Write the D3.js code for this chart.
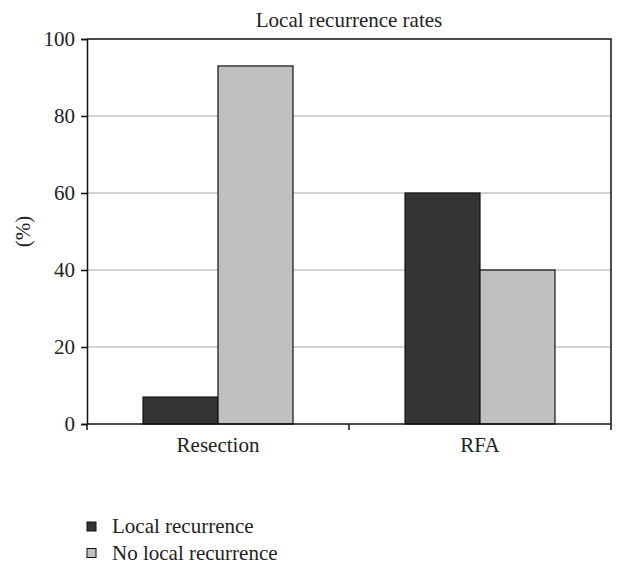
<!DOCTYPE html>
<html>
<head lang="en">
    <meta charset="UTF-8">
    <title>Local recurrence rates</title>
    <style>
        body { margin: 0; background: #fff; }
        text { font-family: "Liberation Serif", "DejaVu Serif", serif; fill: #222; }
    </style>
</head>
<body>
<div id="chart"></div>
<script src="https://cdn.jsdelivr.net/npm/d3@7"></script>
<script>
    // データ
    var categories = ["Resection", "RFA"];
    var seriesNames = ["Local recurrence", "No local recurrence"];
    var localRecurrence = [7, 60];
    var noLocalRecurrence = [93, 40];
    var yTicks = [0, 20, 40, 60, 80, 100];
    var colors = ["#333533", "#c0c0c0"];

    var width = 624, height = 564;
    var plotL = 87, plotR = 611, plotT = 39, plotB = 424;
    var fs = "21px";

    var svg = d3.select("#chart").append("svg")
        .attr("width", width)
        .attr("height", height);

    var x = d3.scaleBand().domain(categories).range([plotL, plotR]);
    var x1 = d3.scaleBand().domain(seriesNames)
        .range([0, x.bandwidth()]).paddingInner(0).paddingOuter(0.747);
    var y = d3.scaleLinear().domain([0, 100]).range([plotB, plotT]);

    // タイトル
    svg.append("text")
        .attr("x", (plotL + plotR) / 2)
        .attr("y", 27)
        .attr("text-anchor", "middle")
        .style("font-size", fs)
        .text("Local recurrence rates");

    // グリッド線
    svg.append("g").selectAll("line")
        .data(yTicks.filter(function(d){ return d > 0 && d < 100; }))
        .enter().append("line")
        .attr("x1", plotL).attr("x2", plotR)
        .attr("y1", function(d){ return y(d); })
        .attr("y2", function(d){ return y(d); })
        .attr("stroke", "#a8a8a8")
        .attr("stroke-width", 1.2);

    // 枠線 (上・右)
    svg.append("path")
        .attr("d", "M" + plotL + "," + y(100) + "H" + plotR + "V" + plotB)
        .attr("fill", "none")
        .attr("stroke", "#111")
        .attr("stroke-width", 1.5);

    // 棒
    var rows = categories.map(function(c, i){
        return [
            {cat: c, s: seriesNames[0], v: localRecurrence[i], k: 0},
            {cat: c, s: seriesNames[1], v: noLocalRecurrence[i], k: 1}
        ];
    });
    svg.append("g").selectAll("g")
        .data(rows)
        .enter().append("g")
        .attr("transform", function(d){ return "translate(" + x(d[0].cat) + ",0)"; })
        .selectAll("rect")
        .data(function(d){ return d; })
        .enter().append("rect")
        .attr("x", function(d){ return x1(d.s); })
        .attr("width", x1.bandwidth())
        .attr("y", function(d){ return y(d.v); })
        .attr("height", function(d){ return y(0) - y(d.v); })
        .attr("fill", function(d){ return colors[d.k]; })
        .attr("stroke", "#111")
        .attr("stroke-width", 1.2);

    // Y軸
    var yAxis = svg.append("g")
        .attr("transform", "translate(" + plotL + ",0)")
        .call(d3.axisLeft(y).tickValues(yTicks).tickSize(6).tickPadding(6));
    yAxis.select(".domain").attr("stroke", "#111").attr("stroke-width", 1.5);
    yAxis.selectAll(".tick line").attr("stroke", "#111").attr("stroke-width", 1.5);
    yAxis.selectAll("text").style("font-size", fs).attr("fill", "#222");

    // X軸
    var xAxis = svg.append("g")
        .attr("transform", "translate(0," + plotB + ")")
        .call(d3.axisBottom(x).tickSize(0).tickPadding(13));
    xAxis.select(".domain").remove();
    xAxis.selectAll("text").style("font-size", fs).attr("fill", "#222");
    svg.append("line")
        .attr("x1", plotL).attr("x2", plotR)
        .attr("y1", plotB).attr("y2", plotB)
        .attr("stroke", "#111").attr("stroke-width", 1.5);
    // 区切りの目盛
    svg.append("g").selectAll("line")
        .data([categories[0], categories[1], null])
        .enter().append("line")
        .attr("x1", function(d){ return d ? x(d) : plotR; })
        .attr("x2", function(d){ return d ? x(d) : plotR; })
        .attr("y1", plotB).attr("y2", plotB + 6)
        .attr("stroke", "#111").attr("stroke-width", 1.5);

    // Y軸ラベル
    svg.append("text")
        .attr("transform", "translate(30," + ((plotT + plotB) / 2) + ") rotate(-90)")
        .attr("text-anchor", "middle")
        .style("font-size", fs)
        .text("(%)");

    // 凡例
    var legend = svg.append("g").selectAll("g")
        .data(seriesNames)
        .enter().append("g")
        .attr("transform", function(d, i){ return "translate(87," + (522 + i * 26.5) + ")"; });
    legend.append("rect")
        .attr("width", 9).attr("height", 9)
        .attr("fill", function(d, i){ return colors[i]; })
        .attr("stroke", "#111").attr("stroke-width", 1);
    legend.append("text")
        .attr("x", 25).attr("y", 11)
        .style("font-size", fs)
        .text(function(d){ return d; });
</script>
</body>
</html>
